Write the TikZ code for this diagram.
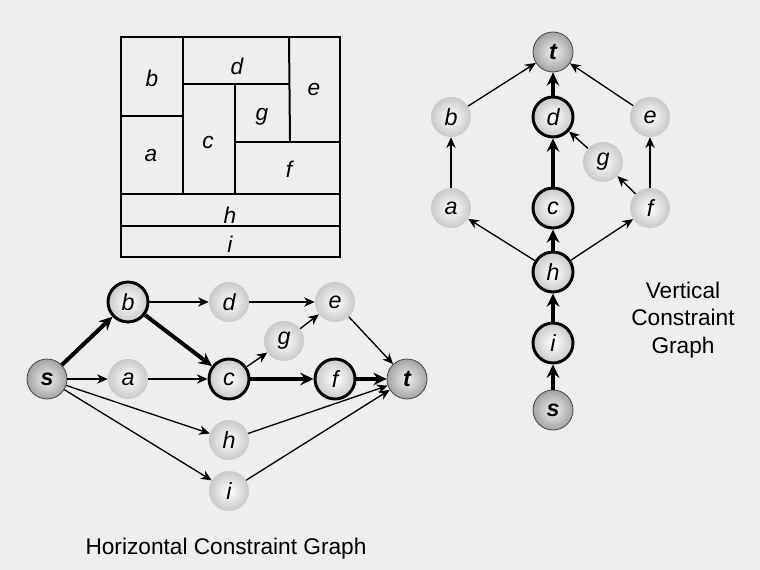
\documentclass[tikz,border=0pt]{standalone}
\usepackage{fontspec}
\setmainfont{Liberation Sans}
\usetikzlibrary{arrows.meta}

\tikzset{
  vtx/.style={circle, minimum size=30pt, inner sep=0pt, shading=radial, inner color=white, outer color=gray!42, font=\fontsize{17.5}{17.5}\selectfont\itshape},
  crit/.style={vtx, draw=black, line width=2.2pt},
  term/.style={vtx, inner color=gray!12, outer color=gray!72, draw=gray!55!black, line width=0.6pt, font=\fontsize{17.5}{17.5}\selectfont\bfseries\itshape},
  edge/.style={-{Stealth[length=8pt,width=7pt,inset=2.5pt]}, line width=1pt},
  critedge/.style={-{Stealth[length=10pt,width=9.5pt,inset=3.5pt]}, line width=3pt},
  cell/.style={font=\fontsize{17}{17}\selectfont\itshape},
  caption/.style={font=\fontsize{17}{20.5}\selectfont, align=center},
}

\begin{document}
\begin{tikzpicture}[x=0.75pt,y=0.75pt,yscale=-1,xscale=1]
\fill[gray!13] (0,0) rectangle (760,570);
\useasboundingbox (0,0) rectangle (760,570);

%Floorplan
\begin{scope}[line width=1.5pt]
\draw (121,37) rectangle (340,257);
\draw (183,37) -- (183,194);
\draw (121,116) -- (183,116);
\draw (183,84) -- (289,84);
\draw (289,37) -- (290,142);
\draw (235,84) -- (235,194);
\draw (235,142) -- (340,142);
\draw (121,194) -- (340,194);
\draw (121,226) -- (340,226);
\end{scope}

% Text Node
\node[cell] (lb) at (152,78) {b};
\node[cell] (ld) at (237,66) {d};
\node[cell] (le) at (314,90) {e};
\node[cell] (la) at (151,156) {a};
\node[cell] (lc) at (208,143) {c};
\node[cell] (lg) at (262,117) {g};
\node[cell] (lf) at (289,169) {f};
\node[cell] (lh) at (230,215) {h};
\node[cell] (li) at (230,244) {i};

%Horizontal graph
\node[term] (hs) at (47,379) {s};
\node[crit] (hb) at (128,302) {b};
\node[vtx]  (hd) at (229,302) {d};
\node[vtx]  (he) at (335,302) {e};
\node[vtx]  (hg) at (284,341) {g};
\node[vtx]  (ha) at (128,379) {a};
\node[crit] (hc) at (229,379) {c};
\node[crit] (hf) at (335,379) {f};
\node[term] (ht) at (407,379) {t};
\node[vtx]  (hh) at (229,440) {h};
\node[vtx]  (hi) at (229,491) {i};

\draw[critedge] (hs) -- (hb);
\draw[critedge] (hb) -- (hc);
\draw[critedge] (hc) -- (hf);
\draw[critedge] (hf) -- (ht);
\draw[edge] (hs) -- (ha);
\draw[edge] (ha) -- (hc);
\draw[edge] (hb) -- (hd);
\draw[edge] (hd) -- (he);
\draw[edge] (hc) -- (hg);
\draw[edge] (hg) -- (he);
\draw[edge] (he) -- (ht);
\draw[edge] (hs) -- (hh);
\draw[edge] (hs) -- (hi);
\draw[edge] (hh) -- (ht);
\draw[edge] (hi) -- (ht);

%Vertical graph
\node[term] (vt) at (553,52) {t};
\node[vtx]  (vb) at (451,117) {b};
\node[crit] (vd) at (553,117) {d};
\node[vtx]  (ve) at (650,117) {e};
\node[vtx]  (vg) at (603,162) {g};
\node[vtx]  (va) at (451,208) {a};
\node[crit] (vc) at (553,208) {c};
\node[vtx]  (vf) at (650,208) {f};
\node[crit] (vh) at (553,272) {h};
\node[crit] (vi) at (553,343) {i};
\node[term] (vs) at (553,410) {s};

\draw[critedge] (vs) -- (vi);
\draw[critedge] (vi) -- (vh);
\draw[critedge] (vh) -- (vc);
\draw[critedge] (vc) -- (vd);
\draw[critedge] (vd) -- (vt);
\draw[edge] (vh) -- (va);
\draw[edge] (vh) -- (vf);
\draw[edge] (va) -- (vb);
\draw[edge] (vb) -- (vt);
\draw[edge] (vf) -- (ve);
\draw[edge] (ve) -- (vt);
\draw[edge] (vf) -- (vg);
\draw[edge] (vg) -- (vd);

% Text Node
\node[caption] (vcap) at (683,320) {Vertical\\Constraint\\Graph};
\node[caption] (hcap) at (226,549) {Horizontal Constraint Graph};

\end{tikzpicture}
\end{document}
